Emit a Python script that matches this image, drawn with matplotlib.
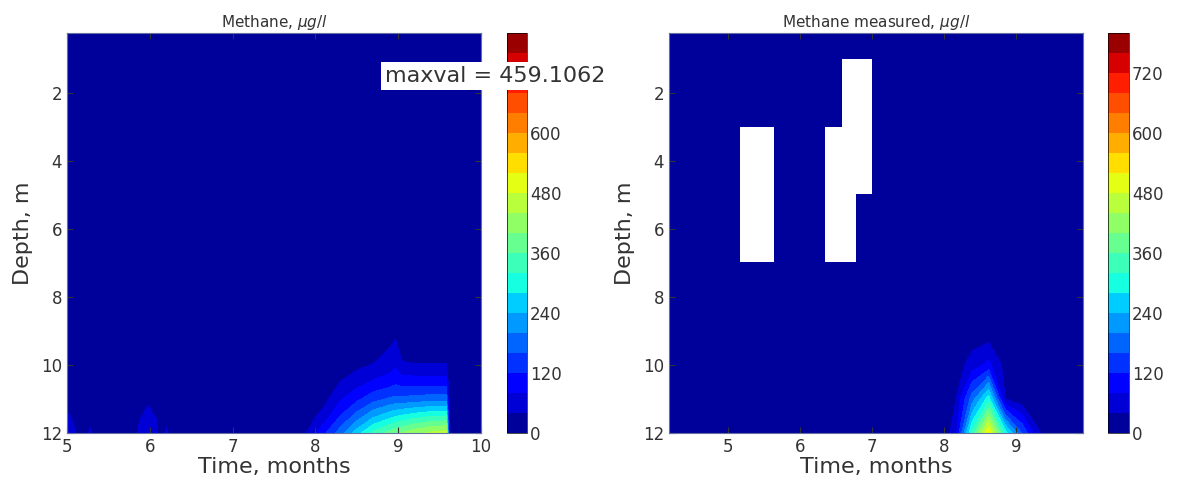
import numpy as np
import matplotlib
matplotlib.use('Agg')
import matplotlib.pyplot as plt

plt.rcParams['font.family'] = ['DejaVu Sans']
plt.rcParams['text.color'] = '#333333'
plt.rcParams['axes.labelcolor'] = '#333333'
plt.rcParams['xtick.color'] = '#333333'
plt.rcParams['ytick.color'] = '#333333'

# model depth grid, m (finer near the bottom)
model_depth = [0.25, 1, 2, 3, 4, 5, 6, 7, 8, 9, 9.5, 10, 10.5, 11, 11.5, 12]
# sampling depths, m
meas_depth = [0.25, 1, 2, 3, 4, 5, 6, 7, 8, 9, 10, 11, 12]

# model output times, months
model_time = [5.0, 5.08, 5.2, 5.28, 5.36, 5.8, 5.88, 5.98, 6.08, 6.13, 6.2,
              6.27, 7.7, 7.9, 8.1, 8.3, 8.5, 8.7, 8.9, 8.97, 9.05, 9.2, 9.4,
              9.58, 9.62, 10.0]
# model methane, ug/l, at depths 9, 9.5, 10, 10.5, 11, 11.5, 12 m
model_bottom = {
    5.0:  [0, 0, 0, 0, 10, 50, 90],
    5.08: [0, 0, 0, 0, 0, 30, 50],
    5.28: [0, 0, 0, 0, 0, 10, 55],
    5.88: [0, 0, 0, 0, 0, 35, 60],
    5.98: [0, 0, 0, 0, 30, 55, 80],
    6.08: [0, 0, 0, 0, 0, 35, 60],
    6.2:  [0, 0, 0, 0, 0, 10, 55],
    7.9:  [0, 0, 0, 2, 8, 20, 42],
    8.1:  [0, 0, 3, 10, 25, 55, 110],
    8.3:  [0, 3, 15, 40, 75, 120, 180],
    8.5:  [2, 8, 30, 62, 110, 175, 260],
    8.7:  [5, 15, 42, 85, 145, 230, 330],
    8.9:  [25, 40, 60, 100, 165, 265, 375],
    8.97: [30, 50, 72, 110, 170, 275, 390],
    9.05: [8, 20, 45, 100, 170, 285, 405],
    9.2:  [5, 15, 42, 100, 175, 300, 428],
    9.4:  [5, 15, 42, 100, 180, 315, 447],
    9.58: [5, 15, 42, 100, 180, 320, 459.1062],
}

# weekly sampling times, months
meas_time = [4.18, 4.42, 4.67, 4.92, 5.16, 5.40, 5.65, 5.88, 6.11, 6.34,
             6.57, 6.79, 7.01, 7.24, 7.47, 7.70, 7.93, 8.16, 8.39, 8.62,
             8.85, 9.08, 9.31, 9.54, 9.75, 9.93]
# measured methane, ug/l, at depths 8, 9, 10, 11, 12 m
meas_bottom = {
    8.16: [0, 2, 15, 38, 60],
    8.39: [2, 10, 60, 180, 330],
    8.62: [5, 15, 90, 300, 520],
    8.85: [0, 5, 25, 40, 300],
    9.08: [0, 0, 5, 15, 160],
    9.31: [0, 0, 0, 5, 45],
}
# samples missing: (time, depth)
meas_missing = [(5.40, 4), (5.40, 5), (5.40, 6),
                (6.57, 4), (6.57, 5), (6.57, 6),
                (6.79, 2), (6.79, 3), (6.79, 4)]

levels = np.arange(0, 801, 40)
cbar_ticks = [0, 120, 240, 360, 480, 600, 720]


def build_field(depth, times, bottom):
    field = np.zeros((len(depth), len(times)))
    n = len(next(iter(bottom.values())))
    for t, prof in bottom.items():
        field[-n:, times.index(t)] = prof
    return field


ch4_model = build_field(model_depth, model_time, model_bottom)
ch4_meas = build_field(meas_depth, meas_time, meas_bottom)
mask = np.zeros_like(ch4_meas, dtype=bool)
for t, d in meas_missing:
    mask[meas_depth.index(d), meas_time.index(t)] = True
ch4_meas = np.ma.masked_array(ch4_meas, mask=mask)

fig = plt.figure(figsize=(11.79, 4.82), dpi=100)
W, H = 1179.0, 482.0
ax1 = fig.add_axes([67 / W, 1 - 433 / H, 414 / W, 400 / H])
cax1 = fig.add_axes([507 / W, 1 - 433 / H, 20 / W, 400 / H])
ax2 = fig.add_axes([669 / W, 1 - 433 / H, 414 / W, 400 / H])
cax2 = fig.add_axes([1108 / W, 1 - 433 / H, 21 / W, 400 / H])

panels = [(ax1, cax1, model_time, model_depth, ch4_model,
           'Methane, $\\mu g/l$', [5, 6, 7, 8, 9, 10]),
          (ax2, cax2, meas_time, meas_depth, ch4_meas,
           'Methane measured, $\\mu g/l$', [5, 6, 7, 8, 9])]

for ax, cax, tt, dd, zz, title, xt in panels:
    cs = ax.contourf(tt, dd, zz, levels=levels, cmap='jet', corner_mask=False)
    ax.set_ylim(12, 0.25)
    ax.set_xlim(tt[0], tt[-1])
    ax.set_xticks(xt)
    ax.set_yticks([2, 4, 6, 8, 10, 12])
    ax.tick_params(direction='in', top=True, right=True, labelsize=12, length=4)
    ax.set_xlabel('Time, months', fontsize=16, labelpad=1)
    ax.set_ylabel('Depth, m', fontsize=16, labelpad=6)
    ax.set_title(title, fontsize=11, pad=4)
    for sp in ax.spines.values():
        sp.set_color('#6670a0')
        sp.set_linewidth(0.8)
    cb = fig.colorbar(cs, cax=cax, ticks=cbar_ticks)
    cb.ax.tick_params(labelsize=12, length=0, pad=2)
    cb.outline.set_linewidth(0.5)

fig.text(385 / W, 1 - 76 / H, 'maxval = %.4f' % ch4_model.max(), fontsize=16,
         va='center', ha='left',
         bbox=dict(facecolor='white', edgecolor='none', boxstyle='square,pad=0.2'))

fig.savefig('out.png', dpi=100)
